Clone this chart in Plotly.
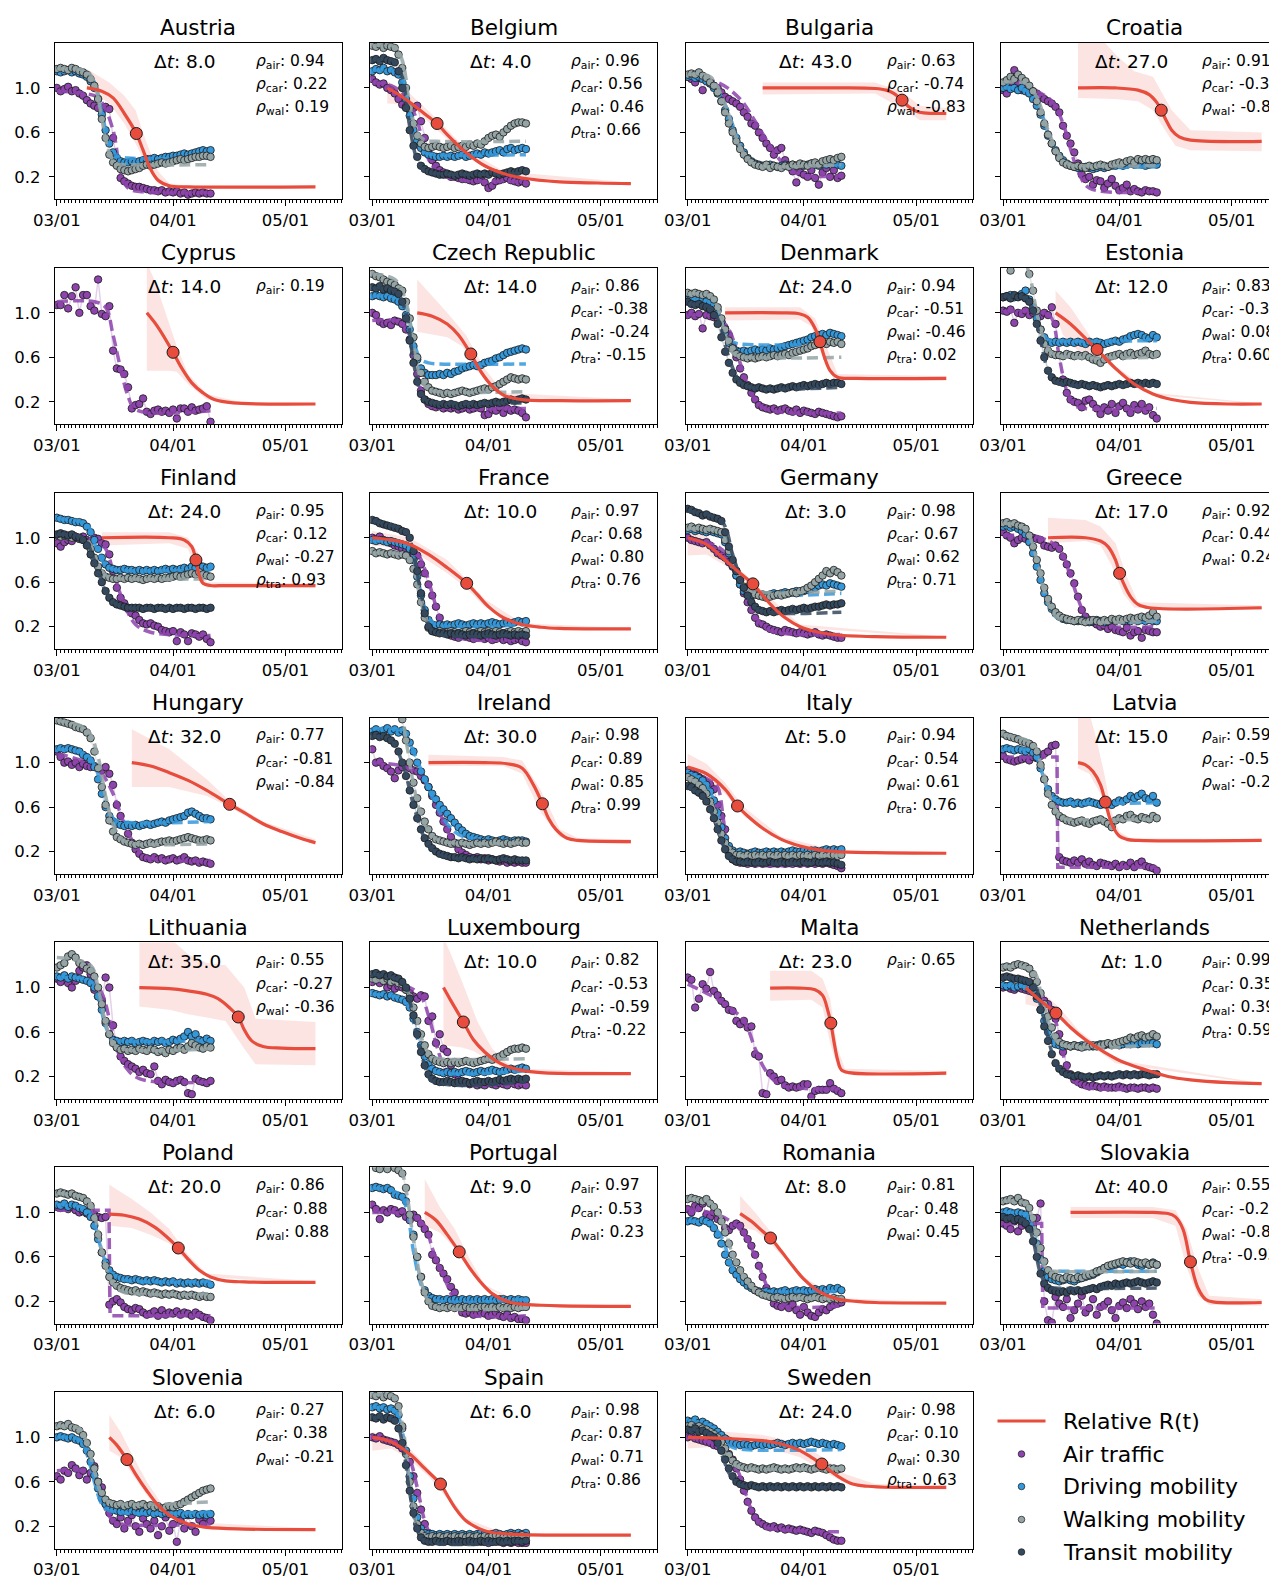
import pandas as pd
import plotly.graph_objects as go

BASE = pd.Timestamp("2020-03-01")

COUNTRIES = ["Austria", "Belgium", "Bulgaria", "Croatia", "Cyprus", "Czech Republic", "Denmark",
             "Estonia", "Finland", "France", "Germany", "Greece", "Hungary", "Ireland", "Italy",
             "Latvia", "Lithuania", "Luxembourg", "Malta", "Netherlands", "Poland", "Portugal",
             "Romania", "Slovakia", "Slovenia", "Spain", "Sweden"]
CODES = ["AT", "BE", "BG", "HR", "CY", "CZ", "DK", "EE", "FI", "FR", "DE", "GR", "HU", "IE", "IT",
         "LV", "LT", "LU", "MT", "NL", "PL", "PT", "RO", "SK", "SI", "ES", "SE"]
TICK_LABELS = ["03/01", "04/01", "05/01"]
Y_TICKS = [0.2, 0.6, 1.0]
LEGEND_LABELS = ["Relative R(t)", "Air traffic", "Driving mobility", "Walking mobility", "Transit mobility"]

# ---------------- Austria ----------------
AT_air = [1.00,0.97,0.99,1.01,0.97,0.98,0.95,0.93,0.89,0.86, 0.84,0.82,0.80,0.83,0.81,0.55,0.32,0.19,0.16,0.14,
          0.12,0.11,0.11,0.10,0.09,0.08,0.08,0.07,0.08,0.06, 0.07,0.06,0.07,0.05,0.06,0.04,0.05,0.06,0.05,0.06, 0.05,0.05]
AT_car = [1.15,1.14,1.15,1.16,1.14,1.15,1.13,1.12,1.10,1.06, 1.00,0.90,0.76,0.62,0.50,0.42,0.37,0.34,0.33,0.33,
          0.34,0.33,0.34,0.35,0.36,0.36,0.37,0.36,0.37,0.38, 0.38,0.39,0.39,0.40,0.41,0.40,0.41,0.42,0.43,0.44, 0.43,0.44]
AT_wal = [1.17,1.18,1.17,1.16,1.18,1.17,1.15,1.14,1.12,1.08, 1.02,0.90,0.72,0.55,0.40,0.33,0.30,0.27,0.26,0.25,
          0.26,0.27,0.28,0.30,0.31,0.30,0.31,0.32,0.33,0.32, 0.33,0.34,0.35,0.36,0.35,0.36,0.37,0.38,0.38,0.39, 0.39,0.38]
AT_air_fit = ([0,10,12,15,17,19,23,41], [0.97,0.93,0.87,0.62,0.25,0.10,0.065,0.06])
AT_car_fit = ([0,8,10,12,14,16,19,41], [1.15,1.13,1.05,0.78,0.50,0.39,0.37,0.37])
AT_wal_fit = ([0,8,10,12,14,16,19,41], [1.17,1.15,1.05,0.72,0.42,0.32,0.31,0.31])
AT_r = ([8,12,15,18,21.2,23,25,27,30,35,69], [1.0,0.97,0.91,0.77,0.59,0.44,0.27,0.17,0.12,0.11,0.11])
AT_hi = ([8,14,18,21,24,27,30,35,69], [1.17,1.05,0.93,0.80,0.50,0.25,0.14,0.12,0.115])
AT_lo = ([8,14,18,21,24,27,30,69], [1.0,0.86,0.68,0.50,0.30,0.14,0.11,0.105])
AT_mark = (21.2, 0.59)
AT_dt = 8.0
AT_rho = [("air", 0.94), ("car", 0.22), ("wal", 0.19)]

# ---------------- Belgium ----------------
BE_air = [1.08,1.05,1.03,1.04,1.00,0.98,0.95,0.90,0.85,0.83, 0.80,0.82,0.84,0.70,0.55,0.42,0.35,0.30,0.26,0.24,
          0.22,0.20,0.20,0.19,0.18,0.18,0.17,0.16,0.17,0.18, 0.15,0.10,0.12,0.16,0.17,0.18,0.19,0.17,0.16,0.15, 0.16,0.14]
BE_car = [1.15,1.17,1.16,1.18,1.15,1.16,1.14,1.12,1.05,0.90, 0.75,0.62,0.52,0.46,0.42,0.40,0.39,0.38,0.38,0.39,
          0.38,0.39,0.38,0.39,0.40,0.38,0.39,0.40,0.41,0.40, 0.42,0.41,0.42,0.43,0.44,0.42,0.45,0.46,0.44,0.45, 0.46,0.45]
BE_wal = [1.38,1.37,1.39,1.36,1.38,1.37,1.36,1.30,1.18,1.00, 0.82,0.68,0.57,0.50,0.47,0.46,0.47,0.48,0.47,0.46,
          0.47,0.48,0.46,0.47,0.48,0.47,0.49,0.48,0.50,0.49, 0.52,0.55,0.57,0.58,0.56,0.60,0.63,0.66,0.68,0.69, 0.69,0.68]
BE_tra = [1.25,1.26,1.24,1.27,1.25,1.24,1.23,1.15,1.00,0.82, 0.62,0.48,0.38,0.30,0.27,0.25,0.24,0.23,0.22,0.22,
          0.23,0.22,0.21,0.22,0.23,0.22,0.21,0.22,0.23,0.22, 0.23,0.22,0.24,0.23,0.22,0.23,0.24,0.25,0.24,0.25, 0.26,0.25]
BE_air_fit = ([0,5,9,12,14,16,19,24,41], [1.05,1.02,0.92,0.70,0.45,0.30,0.21,0.17,0.16])
BE_car_fit = ([0,6,8,10,12,14,17,41], [1.16,1.15,1.10,0.78,0.50,0.42,0.40,0.40])
BE_wal_fit = ([0,6,8,10,12,14,17,41], [1.38,1.37,1.25,0.85,0.60,0.53,0.52,0.52])
BE_tra_fit = ([0,6,8,10,12,14,17,41], [1.25,1.24,1.10,0.65,0.35,0.25,0.23,0.23])
BE_r = ([4,8,12,15,17.3,20,25,30,35,40,50,60,69], [1.0,0.92,0.82,0.74,0.68,0.58,0.42,0.30,0.23,0.19,0.155,0.145,0.14])
BE_hi = ([4,10,17,25,35,69], [1.06,0.95,0.73,0.45,0.25,0.15])
BE_lo = ([4,10,17,25,35,69], [0.86,0.85,0.63,0.39,0.21,0.13])
BE_mark = (17.3, 0.68)
BE_dt = 4.0
BE_rho = [("air", 0.96), ("car", 0.56), ("wal", 0.46), ("tra", 0.66)]

# ---------------- Bulgaria ----------------
BG_air = [1.10,1.08,1.05,1.09,0.98,1.07,1.04,1.02,1.00,0.96, 0.92,0.90,0.88,0.86,0.83,0.78,0.74,0.68,0.66,0.60,
          0.55,0.50,0.46,0.40,0.44,0.46,0.35,0.30,0.25,0.15, 0.24,0.22,0.20,0.26,0.19,0.13,0.24,0.28,0.20,0.26, 0.19,0.21]
BG_car = [1.10,1.11,1.09,1.10,1.08,1.06,1.04,1.00,0.95,0.88, 0.80,0.72,0.62,0.55,0.48,0.42,0.37,0.34,0.32,0.31,
          0.30,0.30,0.31,0.30,0.29,0.30,0.31,0.30,0.31,0.30, 0.31,0.30,0.31,0.32,0.31,0.30,0.32,0.31,0.33,0.32, 0.31,0.30]
BG_wal = [1.12,1.13,1.12,1.14,1.11,1.09,1.05,1.02,0.96,0.88, 0.78,0.68,0.60,0.52,0.45,0.40,0.36,0.33,0.31,0.30,
          0.29,0.31,0.28,0.30,0.29,0.28,0.30,0.29,0.31,0.30, 0.32,0.31,0.30,0.32,0.33,0.31,0.34,0.35,0.36,0.35, 0.37,0.38]
BG_air_fit = ([0,8,14,18,22,26,30,41], [1.08,1.05,0.90,0.70,0.48,0.30,0.22,0.21])
BG_car_fit = ([0,6,10,13,16,19,23,41], [1.10,1.07,0.85,0.58,0.38,0.31,0.30,0.31])
BG_wal_fit = ([0,6,10,13,16,19,23,41], [1.12,1.10,0.85,0.55,0.36,0.30,0.29,0.31])
BG_r = ([20,40,50,53,55,57.2,59,61,63,69], [1.0,1.0,0.995,0.98,0.95,0.89,0.83,0.79,0.775,0.77])
BG_hi = ([20,50,57,62,69], [1.05,1.05,0.97,0.84,0.82])
BG_lo = ([20,50,57,62,69], [0.94,0.95,0.82,0.71,0.71])
BG_mark = (57.2, 0.89)
BG_dt = 43.0
BG_rho = [("air", 0.63), ("car", -0.74), ("wal", -0.83)]

# ---------------- Croatia ----------------
HR_air = [0.98,0.95,1.04,1.16,1.05,0.98,1.02,0.99,0.97,0.95, 0.92,0.90,0.88,0.86,0.83,0.78,0.66,0.57,0.50,0.42,
          0.32,0.22,0.18,0.20,0.13,0.17,0.16,0.10,0.14,0.18, 0.12,0.08,0.10,0.13,0.07,0.09,0.07,0.06,0.08,0.07, 0.07,0.06]
HR_car = [1.00,1.01,0.99,1.00,0.98,1.00,0.97,0.95,0.90,0.84, 0.76,0.66,0.57,0.50,0.44,0.39,0.35,0.32,0.30,0.29,
          0.28,0.28,0.29,0.28,0.27,0.28,0.29,0.28,0.29,0.30, 0.30,0.31,0.30,0.31,0.32,0.31,0.32,0.31,0.30,0.31, 0.32,0.31]
HR_wal = [1.05,1.07,1.10,1.08,1.12,1.09,1.06,1.02,0.97,0.88, 0.78,0.68,0.58,0.50,0.43,0.37,0.33,0.31,0.30,0.29,
          0.30,0.29,0.28,0.30,0.29,0.30,0.31,0.30,0.29,0.31, 0.32,0.33,0.32,0.34,0.35,0.33,0.36,0.35,0.36,0.35, 0.36,0.35]
HR_air_fit = ([0,8,13,16,18,20,23,41], [1.0,0.98,0.88,0.68,0.45,0.25,0.10,0.07])
HR_car_fit = ([0,6,9,12,15,18,22,41], [1.0,0.98,0.88,0.60,0.40,0.31,0.29,0.29])
HR_wal_fit = ([0,6,9,12,15,18,22,41], [1.05,1.04,0.92,0.62,0.40,0.31,0.30,0.30])
HR_r = ([20,30,36,39,41,42.2,43.5,45,47,50,69], [1.0,1.0,0.98,0.94,0.87,0.80,0.71,0.62,0.56,0.53,0.52])
HR_hi = ([20,26,30,35,40,45,50,69], [1.45,1.45,1.30,1.15,1.10,0.80,0.62,0.60])
HR_lo = ([20,30,36,40,43,46,50,69], [0.91,0.90,0.88,0.80,0.63,0.48,0.44,0.43])
HR_mark = (42.2, 0.80)
HR_dt = 27.0
HR_rho = [("air", 0.91), ("car", -0.30), ("wal", -0.83)]

# ---------------- Cyprus ----------------
CY_air = [1.07,1.07,1.16,1.04,1.15,1.23,1.00,1.16,1.16,1.06, 1.02,1.30,0.99,0.97,1.06,0.66,0.50,0.49,0.45,0.33,
          0.14,0.17,0.18,0.23,0.11,0.09,0.12,0.13,0.11,0.12, 0.10,0.13,0.05,0.14,0.14,0.11,0.15,0.12,0.13,0.14, 0.16,0.02]
CY_air_fit = ([0,10,13,15,17,19,21,41], [1.10,1.10,1.05,0.80,0.50,0.25,0.13,0.12])
CY_r = ([24,27,31,33,36,39,42,47,69], [1.0,0.87,0.645,0.52,0.37,0.28,0.22,0.19,0.18])
CY_hi = ([24,26,29,32,35,40,50,69], [1.45,1.30,1.0,0.70,0.45,0.27,0.19,0.185])
CY_lo = ([24,30,32,35,40,50,69], [0.48,0.48,0.47,0.36,0.22,0.175,0.175])
CY_mark = (31.0, 0.645)
CY_dt = 14.0
CY_rho = [("air", 0.19)]

# ---------------- Czech Republic ----------------
CZ_air = [1.00,0.98,0.92,0.90,0.91,0.89,0.93,0.92,0.90,0.85, 0.76,0.62,0.45,0.30,0.22,0.18,0.16,0.15,0.16,0.14,
          0.15,0.14,0.15,0.13,0.14,0.15,0.13,0.14,0.15,0.14, 0.08,0.09,0.13,0.12,0.15,0.10,0.14,0.12,0.13,0.12, 0.10,0.06]
CZ_car = [1.15,1.16,1.15,1.14,1.15,1.13,1.12,1.10,1.06,0.98, 0.85,0.70,0.58,0.50,0.46,0.44,0.44,0.44,0.45,0.44,
          0.46,0.45,0.47,0.48,0.50,0.51,0.52,0.53,0.52,0.53, 0.55,0.56,0.57,0.59,0.60,0.62,0.64,0.65,0.66,0.67, 0.68,0.67]
CZ_wal = [1.35,1.33,1.32,1.30,1.28,1.27,1.25,1.22,1.20,1.10, 0.95,0.78,0.60,0.46,0.38,0.33,0.30,0.29,0.28,0.27,
          0.28,0.27,0.28,0.29,0.30,0.29,0.28,0.29,0.30,0.31, 0.32,0.31,0.33,0.34,0.36,0.38,0.40,0.42,0.41,0.40, 0.41,0.40]
CZ_tra = [1.23,1.22,1.24,1.21,1.22,1.20,1.19,1.17,1.10,0.95, 0.75,0.55,0.38,0.27,0.22,0.20,0.19,0.18,0.17,0.18,
          0.17,0.18,0.17,0.16,0.17,0.18,0.17,0.18,0.17,0.18, 0.19,0.18,0.19,0.20,0.19,0.20,0.21,0.22,0.21,0.22, 0.23,0.22]
CZ_air_fit = ([0,7,10,12,14,16,20,41], [0.93,0.92,0.80,0.45,0.20,0.15,0.14,0.14])
CZ_car_fit = ([0,6,9,11,13,15,18,41], [1.15,1.14,1.05,0.75,0.58,0.55,0.54,0.54])
CZ_wal_fit = ([0,6,9,11,13,15,18,41], [1.35,1.30,1.10,0.70,0.40,0.31,0.29,0.29])
CZ_tra_fit = ([0,6,9,11,13,15,18,41], [1.22,1.20,1.0,0.55,0.28,0.20,0.19,0.19])
CZ_r = ([12,16,20,23,26.3,29,32,35,40,50,69], [1.0,0.97,0.90,0.80,0.63,0.47,0.34,0.26,0.22,0.21,0.21])
CZ_hi = ([12,16,20,25,30,35,69], [1.30,1.15,1.0,0.80,0.50,0.28,0.22])
CZ_lo = ([12,20,24,27,30,35,69], [0.83,0.78,0.70,0.55,0.40,0.24,0.20])
CZ_mark = (26.3, 0.63)
CZ_dt = 14.0
CZ_rho = [("air", 0.86), ("car", -0.38), ("wal", -0.24), ("tra", -0.15)]

# ---------------- Denmark ----------------
DK_air = [0.98,1.00,0.97,0.99,0.86,0.98,0.97,0.96,0.95,0.92, 0.86,0.80,0.70,0.60,0.50,0.42,0.35,0.28,0.22,0.17,
          0.15,0.14,0.13,0.14,0.12,0.13,0.14,0.12,0.11,0.13, 0.10,0.12,0.11,0.10,0.09,0.11,0.10,0.09,0.08,0.07, 0.06,0.07]
DK_car = [1.12,1.13,1.12,1.11,1.12,1.10,1.09,1.07,1.02,0.92, 0.82,0.73,0.68,0.66,0.65,0.66,0.65,0.66,0.67,0.66,
          0.67,0.66,0.68,0.67,0.68,0.69,0.70,0.71,0.72,0.73, 0.74,0.75,0.76,0.78,0.79,0.80,0.81,0.80,0.82,0.81, 0.80,0.79]
DK_wal = [1.18,1.17,1.18,1.17,1.16,1.17,1.15,1.12,1.05,0.95, 0.85,0.75,0.68,0.63,0.61,0.60,0.59,0.60,0.59,0.60,
          0.61,0.60,0.61,0.62,0.61,0.62,0.63,0.62,0.64,0.65, 0.66,0.67,0.68,0.70,0.71,0.72,0.73,0.72,0.74,0.73, 0.74,0.72]
DK_tra = [1.10,1.08,1.07,1.08,1.06,1.05,1.03,0.98,0.90,0.78, 0.65,0.55,0.46,0.40,0.37,0.35,0.34,0.33,0.32,0.33,
          0.32,0.31,0.32,0.31,0.32,0.33,0.32,0.33,0.34,0.33, 0.34,0.35,0.34,0.35,0.36,0.35,0.36,0.37,0.36,0.37, 0.37,0.36]
DK_air_fit = ([0,8,11,14,17,20,24,41], [0.98,0.96,0.85,0.55,0.27,0.15,0.11,0.10])
DK_car_fit = ([0,6,8,10,12,14,41], [1.12,1.10,1.0,0.82,0.74,0.72,0.72])
DK_wal_fit = ([0,6,8,10,12,14,41], [1.17,1.15,1.05,0.80,0.64,0.61,0.60])
DK_tra_fit = ([0,6,8,11,14,17,41], [1.08,1.05,0.95,0.60,0.38,0.33,0.33])
DK_r = ([10,25,30,32,34,35.3,36.5,38,40,45,69], [1.0,1.0,0.99,0.96,0.86,0.74,0.60,0.48,0.42,0.41,0.41])
DK_hi = ([10,30,34,37,40,69], [1.05,1.05,0.95,0.70,0.45,0.43])
DK_lo = ([10,30,33,36,39,69], [0.93,0.94,0.88,0.60,0.40,0.39])
DK_mark = (35.3, 0.74)
DK_dt = 24.0
DK_rho = [("air", 0.94), ("car", -0.51), ("wal", -0.46), ("tra", 0.02)]

# ---------------- Estonia ----------------
EE_air = [1.02,1.01,1.03,0.91,1.00,0.99,1.02,0.98,1.00,0.99, 0.97,1.00,0.98,1.05,0.90,0.62,0.40,0.28,0.22,0.20,
          0.19,0.15,0.21,0.22,0.18,0.14,0.09,0.15,0.12,0.18, 0.10,0.16,0.19,0.14,0.10,0.17,0.13,0.18,0.12,0.15, 0.08,0.05]
EE_car = [1.14,1.15,1.16,1.14,1.15,1.17,1.20,1.12,1.05,0.95, 0.85,0.78,0.74,0.73,0.74,0.73,0.74,0.73,0.74,0.73,
          0.74,0.73,0.72,0.74,0.73,0.74,0.73,0.72,0.73,0.74, 0.75,0.74,0.76,0.77,0.79,0.80,0.81,0.80,0.78,0.77, 0.80,0.78]
EE_wal = [1.52,1.48,1.38,1.50,1.55,1.47,1.45,1.35,1.20,1.02, 0.85,0.72,0.66,0.63,0.62,0.62,0.61,0.63,0.62,0.61,
          0.62,0.61,0.62,0.60,0.58,0.57,0.55,0.58,0.60,0.61, 0.62,0.63,0.61,0.63,0.64,0.62,0.63,0.64,0.66,0.63, 0.62,0.63]
EE_tra = [1.14,1.15,1.13,1.16,1.14,1.15,1.13,1.10,1.02,0.90, 0.75,0.60,0.48,0.42,0.39,0.38,0.37,0.38,0.37,0.36,
          0.35,0.36,0.35,0.34,0.35,0.34,0.33,0.34,0.35,0.34, 0.35,0.36,0.35,0.36,0.37,0.36,0.37,0.36,0.37,0.36, 0.37,0.36]
EE_air_fit = ([0,11,13,15,17,19,22,41], [1.01,1.0,0.95,0.60,0.30,0.17,0.14,0.14])
EE_car_fit = ([0,6,8,10,12,14,41], [1.15,1.13,1.03,0.84,0.76,0.75,0.75])
EE_wal_fit = ([0,5,7,9,11,13,15,41], [1.55,1.50,1.35,1.0,0.75,0.64,0.61,0.60])
EE_tra_fit = ([0,6,8,10,12,14,17,41], [1.15,1.13,1.02,0.75,0.48,0.38,0.35,0.35])
EE_r = ([14,18,22,25.1,30,35,40,45,50,60,69], [1.0,0.90,0.77,0.67,0.50,0.36,0.27,0.22,0.195,0.18,0.18])
EE_hi = ([14,18,22,25,30,40,69], [1.20,1.05,0.85,0.70,0.52,0.28,0.185])
EE_lo = ([14,16,20,25,30,40,69], [0.98,0.80,0.66,0.63,0.48,0.26,0.175])
EE_mark = (25.1, 0.67)
EE_dt = 12.0
EE_rho = [("air", 0.83), ("car", -0.33), ("wal", 0.08), ("tra", 0.60)]

# ---------------- Finland ----------------
FI_air = [0.95,0.92,0.96,0.98,0.97,1.00,0.99,1.01,0.98,0.97, 1.00,0.99,0.95,0.94,0.85,0.70,0.55,0.46,0.41,0.36,
          0.32,0.30,0.26,0.23,0.22,0.23,0.21,0.20,0.17,0.16, 0.15,0.16,0.07,0.15,0.13,0.07,0.14,0.13,0.11,0.13, 0.09,0.06]
FI_car = [1.18,1.17,1.16,1.16,1.15,1.14,1.14,1.13,1.10,1.05, 0.98,0.90,0.82,0.76,0.73,0.72,0.71,0.71,0.72,0.71,
          0.71,0.70,0.71,0.70,0.71,0.70,0.71,0.70,0.71,0.72, 0.71,0.72,0.71,0.72,0.73,0.72,0.74,0.73,0.75,0.74, 0.73,0.74]
FI_wal = [1.02,1.01,1.02,1.01,1.00,1.01,0.99,0.98,0.95,0.90, 0.82,0.74,0.68,0.65,0.64,0.63,0.63,0.64,0.63,0.64,
          0.63,0.64,0.63,0.62,0.63,0.64,0.63,0.64,0.63,0.64, 0.64,0.65,0.66,0.65,0.66,0.67,0.68,0.67,0.69,0.67, 0.66,0.65]
FI_tra = [1.03,1.04,1.03,1.02,1.03,1.01,1.00,0.98,0.93,0.85, 0.77,0.68,0.60,0.52,0.46,0.42,0.40,0.39,0.38,0.37,
          0.37,0.37,0.37,0.36,0.37,0.37,0.36,0.37,0.37,0.36, 0.37,0.36,0.37,0.37,0.36,0.37,0.37,0.36,0.37,0.37, 0.36,0.37]
FI_air_fit = ([0,10,13,15,18,21,25,41], [0.98,0.98,0.90,0.70,0.40,0.22,0.15,0.12])
FI_car_fit = ([0,8,10,12,14,16,41], [1.17,1.12,0.95,0.80,0.73,0.71,0.71])
FI_wal_fit = ([0,8,10,12,14,16,41], [1.02,0.98,0.85,0.70,0.64,0.63,0.63])
FI_tra_fit = ([0,7,10,13,16,19,41], [1.03,1.0,0.80,0.52,0.40,0.37,0.37])
FI_r = ([12,30,34,36,37.1,38,39,41,45,69], [1.0,1.0,0.98,0.92,0.80,0.66,0.59,0.57,0.57,0.57])
FI_hi = ([12,30,35,38,40,69], [1.05,1.05,1.0,0.85,0.60,0.59])
FI_lo = ([12,30,35,38,40,69], [0.93,0.95,0.90,0.62,0.55,0.55])
FI_mark = (37.1, 0.80)
FI_dt = 24.0
FI_rho = [("air", 0.95), ("car", 0.12), ("wal", -0.27), ("tra", 0.93)]

# ---------------- France ----------------
FR_air = [1.00,0.99,1.01,0.98,0.97,0.95,0.93,0.92,0.90,0.88, 0.88,0.86,0.84,0.76,0.68,0.58,0.48,0.38,0.28,0.18,
          0.14,0.12,0.11,0.10,0.12,0.11,0.10,0.09,0.10,0.11, 0.09,0.10,0.08,0.09,0.10,0.08,0.09,0.07,0.08,0.09, 0.07,0.06]
FR_car = [0.98,0.97,0.98,0.97,0.96,0.97,0.96,0.95,0.94,0.93, 0.90,0.80,0.65,0.48,0.35,0.26,0.22,0.21,0.22,0.21,
          0.22,0.21,0.22,0.23,0.22,0.21,0.22,0.23,0.22,0.23, 0.22,0.23,0.24,0.23,0.22,0.23,0.24,0.23,0.24,0.25, 0.24,0.25]
FR_wal = [0.88,0.86,0.87,0.86,0.85,0.86,0.85,0.84,0.85,0.84, 0.80,0.72,0.58,0.42,0.28,0.19,0.16,0.15,0.16,0.15,
          0.15,0.16,0.15,0.14,0.15,0.16,0.15,0.14,0.15,0.16, 0.15,0.16,0.15,0.16,0.15,0.14,0.15,0.16,0.15,0.16, 0.15,0.16]
FR_tra = [1.16,1.15,1.13,1.12,1.11,1.10,1.09,1.08,1.06,1.05, 1.00,0.88,0.70,0.50,0.32,0.20,0.16,0.15,0.14,0.14,
          0.13,0.14,0.13,0.14,0.13,0.12,0.13,0.14,0.13,0.12, 0.13,0.14,0.13,0.12,0.13,0.14,0.13,0.12,0.13,0.12, 0.13,0.12]
FR_air_fit = ([0,8,12,14,16,18,21,41], [0.99,0.94,0.86,0.72,0.50,0.28,0.12,0.09])
FR_car_fit = ([0,9,11,13,15,17,41], [0.97,0.95,0.82,0.50,0.28,0.22,0.22])
FR_wal_fit = ([0,9,11,13,15,17,41], [0.86,0.84,0.72,0.42,0.22,0.15,0.15])
FR_tra_fit = ([0,9,11,13,15,17,41], [1.15,1.05,0.85,0.50,0.22,0.14,0.13])
FR_r = ([0,5,10,15,20,25.2,28,31,35,40,45,50,69], [1.0,0.98,0.94,0.85,0.73,0.59,0.49,0.38,0.28,0.22,0.195,0.185,0.18])
FR_hi = ([0,10,20,25,30,40,69], [1.06,1.0,0.80,0.63,0.45,0.23,0.185])
FR_lo = ([0,10,20,25,30,40,69], [0.93,0.90,0.68,0.55,0.38,0.21,0.175])
FR_mark = (25.2, 0.59)
FR_dt = 10.0
FR_rho = [("air", 0.97), ("car", 0.68), ("wal", 0.80), ("tra", 0.76)]

# ---------------- Germany ----------------
DE_air = [1.00,0.98,0.97,0.96,0.95,0.96,0.93,0.90,0.86,0.84, 0.82,0.78,0.74,0.66,0.58,0.50,0.42,0.35,0.28,0.23,
          0.22,0.20,0.18,0.17,0.16,0.15,0.17,0.16,0.15,0.14, 0.15,0.14,0.13,0.14,0.15,0.13,0.12,0.13,0.12,0.11, 0.10,0.10]
DE_car = [1.07,1.08,1.06,1.07,1.06,1.05,1.06,1.05,1.04,1.03, 0.96,0.86,0.75,0.66,0.58,0.52,0.50,0.48,0.49,0.48,
          0.49,0.48,0.49,0.50,0.49,0.50,0.51,0.50,0.51,0.52, 0.51,0.52,0.53,0.54,0.55,0.57,0.58,0.57,0.59,0.58, 0.57,0.56]
DE_wal = [1.09,1.10,1.08,1.09,1.08,1.07,1.08,1.07,1.06,1.05, 0.98,0.88,0.78,0.70,0.62,0.56,0.52,0.50,0.49,0.48,
          0.47,0.46,0.47,0.48,0.49,0.48,0.49,0.50,0.51,0.50, 0.52,0.53,0.55,0.57,0.60,0.63,0.66,0.70,0.68,0.71, 0.69,0.66]
DE_tra = [1.26,1.25,1.23,1.22,1.20,1.21,1.19,1.18,1.17,1.15, 1.05,0.92,0.80,0.70,0.62,0.55,0.48,0.42,0.38,0.35,
          0.34,0.33,0.34,0.33,0.34,0.35,0.34,0.35,0.36,0.35, 0.36,0.37,0.36,0.37,0.38,0.38,0.39,0.40,0.39,0.40, 0.40,0.41]
DE_air_fit = ([0,8,12,15,18,21,25,41], [0.99,0.92,0.78,0.55,0.30,0.18,0.14,0.13])
DE_car_fit = ([0,9,11,13,15,17,41], [1.07,1.04,0.90,0.70,0.55,0.50,0.50])
DE_wal_fit = ([0,9,11,13,15,17,41], [1.08,1.05,0.92,0.72,0.56,0.52,0.52])
DE_tra_fit = ([0,9,12,15,18,21,41], [1.24,1.15,0.85,0.55,0.37,0.33,0.33])
DE_r = ([0,5,10,14,17.4,20,23,26,30,35,40,50,69], [1.0,0.94,0.80,0.68,0.585,0.48,0.37,0.28,0.20,0.15,0.125,0.11,0.105])
DE_hi = ([0,5,10,15,20,30,69], [1.12,1.02,0.85,0.68,0.52,0.22,0.11])
DE_lo = ([0,5,10,15,20,30,69], [0.84,0.85,0.75,0.60,0.45,0.19,0.10])
DE_mark = (17.4, 0.585)
DE_dt = 3.0
DE_rho = [("air", 0.98), ("car", 0.67), ("wal", 0.62), ("tra", 0.71)]

# ---------------- Greece ----------------
GR_air = [1.05,1.02,1.00,0.95,0.98,1.00,0.99,0.97,1.00,0.99, 0.98,0.93,0.92,0.91,0.93,0.90,0.83,0.76,0.68,0.59,
          0.47,0.35,0.29,0.26,0.24,0.22,0.20,0.21,0.18,0.20, 0.17,0.16,0.15,0.19,0.12,0.15,0.16,0.10,0.17,0.16, 0.15,0.15]
GR_car = [1.10,1.11,1.09,1.10,1.08,1.06,1.03,0.96,0.86,0.74, 0.62,0.50,0.42,0.36,0.32,0.29,0.27,0.26,0.26,0.25,
          0.25,0.26,0.25,0.24,0.25,0.26,0.25,0.24,0.25,0.26, 0.25,0.26,0.25,0.26,0.25,0.26,0.25,0.26,0.25,0.26, 0.25,0.25]
GR_wal = [1.13,1.14,1.12,1.13,1.11,1.10,1.08,1.02,0.92,0.80, 0.68,0.55,0.45,0.38,0.33,0.30,0.28,0.27,0.26,0.25,
          0.26,0.25,0.24,0.25,0.26,0.25,0.24,0.26,0.25,0.27, 0.26,0.27,0.26,0.27,0.28,0.27,0.28,0.29,0.28,0.30, 0.33,0.29]
GR_air_fit = ([0,10,15,18,20,22,25,41], [1.02,1.0,0.90,0.65,0.45,0.30,0.22,0.20])
GR_car_fit = ([0,5,7,9,11,13,15,41], [1.10,1.08,1.0,0.80,0.52,0.33,0.27,0.25])
GR_wal_fit = ([0,5,7,9,11,13,15,41], [1.13,1.10,1.02,0.80,0.52,0.34,0.27,0.25])
GR_r = ([12,22,26,28,30,31.1,32,34,36,39,69], [1.0,1.0,0.97,0.92,0.80,0.68,0.60,0.47,0.40,0.37,0.37])
GR_hi = ([12,22,26,30,33,36,69], [1.18,1.16,1.10,0.95,0.65,0.42,0.39])
GR_lo = ([12,22,26,29,32,35,69], [0.95,0.97,0.93,0.75,0.50,0.37,0.35])
GR_mark = (31.1, 0.68)
GR_dt = 17.0
GR_rho = [("air", 0.92), ("car", 0.44), ("wal", 0.24)]

# ---------------- Hungary ----------------
HU_air = [1.10,1.05,1.00,1.01,0.98,1.00,0.96,0.99,0.97,0.96, 0.97,0.95,0.93,0.96,0.90,0.80,0.62,0.52,0.44,0.36,
          0.28,0.22,0.18,0.15,0.14,0.13,0.15,0.13,0.14,0.12, 0.13,0.14,0.12,0.13,0.15,0.12,0.11,0.12,0.10,0.11, 0.10,0.09]
HU_car = [1.12,1.13,1.12,1.13,1.12,1.11,1.10,1.07,1.05,1.02, 0.96,0.85,0.72,0.60,0.52,0.47,0.45,0.44,0.43,0.44,
          0.43,0.44,0.43,0.44,0.45,0.44,0.45,0.46,0.47,0.46, 0.48,0.49,0.50,0.51,0.52,0.55,0.56,0.54,0.52,0.50, 0.50,0.49]
HU_wal = [1.38,1.37,1.36,1.35,1.34,1.32,1.31,1.30,1.27,1.22, 1.10,0.95,0.78,0.62,0.48,0.38,0.33,0.31,0.29,0.28,
          0.27,0.26,0.27,0.26,0.27,0.28,0.27,0.28,0.29,0.29, 0.30,0.29,0.30,0.31,0.32,0.33,0.32,0.31,0.30,0.30, 0.31,0.30]
HU_air_fit = ([0,8,12,15,18,21,24,41], [1.08,1.0,0.90,0.72,0.45,0.25,0.15,0.12])
HU_car_fit = ([0,8,11,13,15,17,41], [1.12,1.07,0.90,0.65,0.50,0.47,0.47])
HU_wal_fit = ([0,8,11,13,15,17,19,41], [1.38,1.30,1.05,0.70,0.45,0.32,0.28,0.27])
HU_r = ([20,25,30,35,40,46.1,50,55,60,65,69], [1.0,0.97,0.91,0.84,0.75,0.625,0.55,0.45,0.38,0.32,0.28])
HU_hi = ([20,30,40,46,55,69], [1.30,1.12,0.85,0.66,0.47,0.31])
HU_lo = ([20,30,40,46,55,69], [0.78,0.78,0.70,0.60,0.43,0.26])
HU_mark = (46.1, 0.625)
HU_dt = 32.0
HU_rho = [("air", 0.77), ("car", -0.81), ("wal", -0.84)]

# ---------------- Ireland ----------------
IE_air = [1.12,1.00,1.01,0.97,0.95,0.92,0.86,0.93,0.96,0.97, 0.95,0.93,0.92,0.88,0.84,0.78,0.70,0.62,0.55,0.47,
          0.40,0.33,0.27,0.22,0.19,0.17,0.15,0.14,0.15,0.13, 0.14,0.12,0.13,0.12,0.11,0.12,0.10,0.11,0.10,0.11, 0.10,0.10]
IE_car = [1.28,1.30,1.27,1.29,1.31,1.28,1.30,1.27,1.29,1.26, 1.18,1.10,1.0,0.92,0.85,0.78,0.72,0.67,0.62,0.58,
          0.54,0.50,0.46,0.42,0.39,0.36,0.34,0.33,0.32,0.31, 0.30,0.31,0.30,0.29,0.30,0.31,0.30,0.29,0.30,0.30, 0.30,0.29]
IE_wal = [1.50,1.48,1.52,1.49,1.47,1.50,1.46,1.44,1.39,1.20, 1.0,0.82,0.68,0.56,0.47,0.40,0.34,0.31,0.30,0.29,
          0.28,0.27,0.28,0.27,0.28,0.27,0.26,0.27,0.28,0.27, 0.28,0.27,0.28,0.29,0.28,0.27,0.28,0.27,0.28,0.29, 0.28,0.28]
IE_tra = [1.24,1.25,1.23,1.24,1.22,1.20,1.17,1.10,1.0,0.88, 0.75,0.62,0.50,0.40,0.32,0.27,0.23,0.20,0.18,0.17,
          0.16,0.15,0.15,0.14,0.15,0.14,0.13,0.14,0.13,0.14, 0.13,0.14,0.13,0.12,0.13,0.14,0.13,0.12,0.13,0.12, 0.12,0.12]
IE_air_fit = ([0,8,12,15,18,21,25,41], [1.0,0.97,0.90,0.78,0.55,0.33,0.17,0.12])
IE_car_fit = ([0,8,11,14,17,20,24,41], [1.30,1.28,1.10,0.85,0.62,0.45,0.34,0.30])
IE_wal_fit = ([0,7,9,11,13,15,18,41], [1.55,1.50,1.20,0.80,0.52,0.38,0.30,0.28])
IE_tra_fit = ([0,5,8,11,14,17,20,41], [1.24,1.20,1.0,0.62,0.32,0.19,0.15,0.13])
IE_r = ([15,30,36,40,43,45.4,47,49,52,55,69], [1.0,1.0,0.99,0.95,0.80,0.63,0.50,0.40,0.32,0.30,0.29])
IE_hi = ([15,35,40,45,50,55,69], [1.07,1.05,1.02,0.75,0.40,0.32,0.31])
IE_lo = ([15,35,40,45,50,55,69], [0.97,0.97,0.90,0.55,0.33,0.28,0.27])
IE_mark = (45.4, 0.63)
IE_dt = 30.0
IE_rho = [("air", 0.98), ("car", 0.89), ("wal", 0.85), ("tra", 0.99)]

# ---------------- Italy ----------------
IT_air = [0.93,0.91,0.89,0.87,0.85,0.82,0.80,0.76,0.62,0.52, 0.40,0.18,0.13,0.11,0.10,0.10,0.09,0.10,0.09,0.10,
          0.09,0.10,0.09,0.10,0.09,0.10,0.09,0.10,0.09,0.10, 0.09,0.10,0.09,0.10,0.09,0.10,0.09,0.10,0.09,0.08, 0.07,0.05]
IT_car = [0.91,0.89,0.88,0.86,0.84,0.80,0.74,0.66,0.55,0.42, 0.32,0.25,0.21,0.19,0.20,0.19,0.18,0.19,0.20,0.19,
          0.19,0.20,0.19,0.20,0.19,0.20,0.19,0.20,0.21,0.20, 0.20,0.21,0.20,0.21,0.21,0.20,0.21,0.22,0.21,0.22, 0.21,0.22]
IT_wal = [0.87,0.85,0.83,0.80,0.77,0.72,0.65,0.56,0.46,0.36, 0.28,0.22,0.19,0.17,0.17,0.16,0.17,0.16,0.17,0.16,
          0.17,0.16,0.17,0.16,0.17,0.16,0.17,0.16,0.17,0.16, 0.17,0.16,0.17,0.16,0.17,0.16,0.17,0.16,0.17,0.17, 0.16,0.17]
IT_tra = [0.79,0.78,0.75,0.73,0.70,0.65,0.58,0.50,0.40,0.30, 0.22,0.16,0.13,0.11,0.11,0.10,0.11,0.10,0.10,0.11,
          0.10,0.10,0.11,0.10,0.10,0.11,0.10,0.10,0.11,0.10, 0.10,0.11,0.10,0.10,0.11,0.10,0.10,0.11,0.10,0.10, 0.09,0.08]
IT_air_fit = ([0,6,8,9.5,11,12.5,41], [0.92,0.84,0.78,0.50,0.15,0.10,0.09])
IT_car_fit = ([0,4,7,9,11,13,41], [0.90,0.84,0.66,0.42,0.25,0.20,0.20])
IT_wal_fit = ([0,4,7,9,11,13,41], [0.86,0.78,0.58,0.36,0.22,0.17,0.17])
IT_tra_fit = ([0,4,7,9,11,13,41], [0.78,0.70,0.50,0.30,0.15,0.11,0.10])
IT_r = ([0,5,10,13.3,16,20,25,30,35,40,50,69], [0.96,0.90,0.76,0.61,0.52,0.41,0.31,0.25,0.215,0.20,0.19,0.185])
IT_hi = ([0,5,10,15,25,40,69], [1.08,0.99,0.82,0.60,0.33,0.21,0.195])
IT_lo = ([0,5,10,15,25,40,69], [0.90,0.85,0.72,0.52,0.29,0.19,0.175])
IT_mark = (13.3, 0.61)
IT_dt = 5.0
IT_rho = [("air", 0.94), ("car", 0.54), ("wal", 0.61), ("tra", 0.76)]

# ---------------- Latvia ----------------
LV_air = [1.06,1.03,1.02,1.01,1.02,1.03,1.04,1.02,1.05,1.04, 1.06,1.08,1.10,1.15,1.16,0.15,0.12,0.11,0.10,0.12,
          0.10,0.13,0.09,0.11,0.08,0.07,0.10,0.09,0.08,0.07, 0.09,0.06,0.08,0.07,0.10,0.06,0.09,0.11,0.07,0.06, 0.05,0.03]
LV_car = [1.12,1.13,1.12,1.11,1.12,1.11,1.10,1.12,1.09,1.05, 0.95,0.85,0.76,0.70,0.67,0.65,0.64,0.64,0.65,0.63,
          0.64,0.63,0.64,0.65,0.64,0.63,0.62,0.64,0.63,0.62, 0.64,0.66,0.65,0.67,0.70,0.68,0.70,0.72,0.68,0.67, 0.70,0.64]
LV_wal = [1.26,1.24,1.23,1.22,1.21,1.19,1.18,1.17,1.15,1.10, 0.98,0.85,0.72,0.62,0.56,0.52,0.50,0.48,0.47,0.46,
          0.47,0.48,0.46,0.45,0.47,0.48,0.49,0.47,0.45,0.42, 0.48,0.50,0.49,0.52,0.53,0.50,0.49,0.51,0.50,0.49, 0.52,0.50]
LV_air_fit = ([0,14.4,14.6,41], [1.05,1.05,0.06,0.06])
LV_car_fit = ([0,8,10,12,14,16,41], [1.12,1.10,0.95,0.75,0.66,0.64,0.64])
LV_wal_fit = ([0,8,10,12,14,16,18,41], [1.25,1.17,1.0,0.75,0.58,0.50,0.49,0.49])
LV_r = ([20,22,24,26,27.3,29,31,33,36,69], [1.0,0.98,0.92,0.80,0.645,0.45,0.34,0.31,0.30,0.30])
LV_hi = ([20,23,25,27,29,31,34,69], [1.45,1.45,1.20,0.90,0.55,0.38,0.32,0.31])
LV_lo = ([20,23,26,28,31,69], [0.95,0.90,0.72,0.50,0.32,0.29])
LV_mark = (27.3, 0.645)
LV_dt = 15.0
LV_rho = [("air", 0.59), ("car", -0.50), ("wal", -0.22)]

# ---------------- Lithuania ----------------
LT_air = [1.08,1.05,1.10,1.04,1.00,1.06,1.15,1.18,1.20,1.12, 0.98,0.92,0.88,1.09,1.00,0.66,0.46,0.38,0.34,0.31,
          0.29,0.27,0.24,0.26,0.23,0.22,0.29,0.16,0.13,0.17, 0.15,0.14,0.16,0.17,0.15,0.05,0.04,0.18,0.16,0.15, 0.14,0.16]
LT_car = [1.10,1.09,1.11,1.08,1.10,1.09,1.08,1.07,1.06,1.04, 1.0,0.92,0.80,0.68,0.58,0.53,0.52,0.51,0.52,0.51,
          0.52,0.50,0.51,0.52,0.51,0.50,0.52,0.51,0.52,0.50, 0.51,0.53,0.52,0.54,0.56,0.60,0.56,0.58,0.53,0.52, 0.54,0.52]
LT_wal = [1.18,1.20,1.22,1.28,1.30,1.27,1.22,1.20,1.17,1.15, 1.10,1.0,0.85,0.70,0.58,0.50,0.46,0.44,0.45,0.43,
          0.44,0.43,0.45,0.44,0.43,0.45,0.44,0.42,0.43,0.41, 0.44,0.43,0.45,0.46,0.44,0.47,0.50,0.48,0.46,0.45, 0.47,0.46]
LT_air_fit = ([0,9,12,14,16,18,22,41], [1.08,1.07,0.95,0.72,0.45,0.30,0.18,0.15])
LT_car_fit = ([0,9,11,13,15,17,41], [1.09,1.06,0.92,0.65,0.53,0.52,0.52])
LT_wal_fit = ([0,9,11,13,15,17,41], [1.27,1.20,1.0,0.68,0.50,0.45,0.45])
LT_r = ([22,30,35,40,43,46,48.4,50,52,55,60,69], [1.0,0.99,0.97,0.94,0.90,0.82,0.735,0.62,0.52,0.47,0.455,0.45])
LT_hi = ([22,30,35,40,45,50,53,69], [1.45,1.45,1.30,1.22,1.20,1.0,0.72,0.69])
LT_lo = ([22,30,35,40,45,50,53,69], [0.83,0.80,0.76,0.73,0.70,0.45,0.31,0.30])
LT_mark = (48.4, 0.735)
LT_dt = 35.0
LT_rho = [("air", 0.55), ("car", -0.27), ("wal", -0.36)]

# ---------------- Luxembourg ----------------
LU_air = [1.05,1.08,1.04,1.06,1.00,1.02,0.99,1.01,1.00,0.98, 0.95,0.92,0.90,0.93,0.92,0.70,0.74,0.50,0.58,0.45,
          0.42,0.30,0.22,0.17,0.14,0.15,0.13,0.14,0.12,0.13, 0.12,0.14,0.13,0.12,0.14,0.13,0.12,0.15,0.13,0.12, 0.13,0.12]
LU_car = [0.95,0.94,0.93,0.94,0.92,0.93,0.91,0.90,0.89,0.87, 0.82,0.72,0.60,0.48,0.38,0.31,0.27,0.25,0.24,0.23,
          0.24,0.23,0.24,0.23,0.24,0.25,0.24,0.23,0.24,0.25, 0.24,0.25,0.26,0.25,0.24,0.25,0.26,0.27,0.26,0.27, 0.28,0.27]
LU_wal = [1.08,1.07,1.09,1.06,1.08,1.05,1.06,1.04,1.03,0.98, 0.92,0.82,0.70,0.58,0.48,0.40,0.36,0.34,0.33,0.32,
          0.33,0.32,0.33,0.32,0.33,0.34,0.33,0.32,0.33,0.34, 0.35,0.36,0.35,0.37,0.38,0.40,0.42,0.44,0.45,0.45, 0.46,0.45]
LU_tra = [1.12,1.13,1.11,1.12,1.10,1.11,1.09,1.08,1.05,1.0, 0.90,0.75,0.58,0.42,0.30,0.22,0.18,0.16,0.15,0.15,
          0.16,0.15,0.14,0.15,0.16,0.15,0.14,0.15,0.16,0.15, 0.15,0.16,0.15,0.16,0.17,0.16,0.17,0.18,0.17,0.18, 0.17,0.18]
LU_air_fit = ([0,10,13,15,17,19,22,41], [1.05,1.0,0.92,0.75,0.50,0.30,0.16,0.14])
LU_car_fit = ([0,8,10,12,14,16,41], [0.94,0.90,0.80,0.55,0.33,0.25,0.25])
LU_wal_fit = ([0,8,10,12,14,16,18,41], [1.07,1.03,0.92,0.68,0.47,0.38,0.36,0.36])
LU_tra_fit = ([0,8,10,12,14,16,41], [1.12,1.05,0.88,0.55,0.30,0.16,0.15])
LU_r = ([19,21,24.3,27,30,33,36,40,45,50,69], [1.0,0.88,0.69,0.53,0.42,0.34,0.29,0.255,0.235,0.228,0.225])
LU_hi = ([19,21,24,28,32,36,40,69], [1.45,1.30,1.05,0.70,0.45,0.32,0.27,0.235])
LU_lo = ([19,24,27,30,35,40,69], [0.48,0.46,0.43,0.37,0.27,0.24,0.215])
LU_mark = (24.3, 0.69)
LU_dt = 10.0
LU_rho = [("air", 0.82), ("car", -0.53), ("wal", -0.59), ("tra", -0.22)]

# ---------------- Malta ----------------
MT_air = [1.09,1.07,0.82,0.90,1.03,0.99,1.14,0.97,0.93,0.88, 0.85,0.80,0.79,0.70,0.67,0.70,0.64,0.65,0.40,0.38,
          0.05,0.04,0.23,0.20,0.16,0.17,0.12,0.10,0.11,0.10, 0.11,0.13,0.13,0.02,0.07,0.08,0.08,0.08,0.14,0.09, 0.07,0.05]
MT_air_fit = ([0,5,10,15,18,20,22,25,41], [1.03,0.95,0.85,0.70,0.45,0.30,0.20,0.12,0.09])
MT_r = ([22,30,34,36,37.5,38.2,39,40,41,43,69], [0.995,0.995,0.98,0.93,0.78,0.68,0.52,0.35,0.26,0.235,0.23])
MT_hi = ([22,33,36,38,40,42,69], [1.15,1.15,1.08,0.90,0.45,0.27,0.25])
MT_lo = ([22,33,36,38,40,42,69], [0.88,0.89,0.82,0.50,0.28,0.22,0.21])
MT_mark = (38.2, 0.68)
MT_dt = 23.0
MT_rho = [("air", 0.65)]

# ---------------- Netherlands ----------------
NL_air = [1.00,1.01,0.99,0.98,1.00,0.99,0.98,0.97,0.96,0.95, 0.92,0.88,0.85,0.80,0.72,0.58,0.42,0.30,0.22,0.17,
          0.15,0.13,0.12,0.11,0.12,0.11,0.10,0.11,0.10,0.10, 0.10,0.11,0.10,0.09,0.10,0.10,0.09,0.10,0.10,0.09, 0.10,0.09]
NL_car = [1.02,1.01,1.02,1.00,1.01,1.02,1.00,0.99,0.96,0.90, 0.80,0.70,0.60,0.53,0.49,0.48,0.47,0.48,0.47,0.48,
          0.47,0.48,0.47,0.48,0.47,0.48,0.49,0.48,0.49,0.48, 0.49,0.48,0.49,0.50,0.49,0.50,0.49,0.50,0.51,0.50, 0.50,0.49]
NL_wal = [1.18,1.19,1.18,1.20,1.21,1.20,1.19,1.17,1.12,1.05, 0.95,0.85,0.74,0.64,0.56,0.51,0.49,0.48,0.47,0.48,
          0.47,0.46,0.48,0.47,0.48,0.47,0.48,0.49,0.50,0.49, 0.50,0.51,0.52,0.53,0.55,0.54,0.56,0.57,0.55,0.56, 0.58,0.56]
NL_tra = [1.09,1.10,1.09,1.08,1.08,1.07,1.06,1.05,1.0,0.92, 0.80,0.65,0.52,0.40,0.32,0.27,0.24,0.22,0.21,0.20,
          0.21,0.20,0.19,0.20,0.19,0.20,0.21,0.20,0.21,0.20, 0.21,0.22,0.21,0.22,0.21,0.22,0.21,0.22,0.22,0.21, 0.22,0.22]
NL_air_fit = ([0,9,12,14,16,18,21,41], [1.0,0.96,0.85,0.70,0.40,0.20,0.11,0.10])
NL_car_fit = ([0,8,10,12,14,16,41], [1.02,0.98,0.82,0.60,0.50,0.48,0.48])
NL_wal_fit = ([0,8,10,12,14,16,41], [1.19,1.15,0.97,0.70,0.53,0.48,0.48])
NL_tra_fit = ([0,8,10,12,14,16,18,41], [1.09,1.04,0.85,0.55,0.32,0.23,0.21,0.21])
NL_r = ([6,10,14.1,18,22,27,32,38,44,50,60,69], [1.0,0.88,0.77,0.64,0.53,0.42,0.33,0.26,0.20,0.17,0.145,0.135])
NL_hi = ([6,10,15,20,30,69], [1.05,0.97,0.82,0.62,0.35,0.14])
NL_lo = ([6,10,15,20,30,69], [0.85,0.82,0.72,0.56,0.32,0.13])
NL_mark = (14.1, 0.77)
NL_dt = 1.0
NL_rho = [("air", 0.99), ("car", 0.35), ("wal", 0.39), ("tra", 0.59)]

# ---------------- Poland ----------------
PL_air = [1.05,1.04,1.06,1.03,1.05,1.02,1.00,1.01,0.99,1.03, 0.98,0.96,0.95,0.96,0.17,0.20,0.22,0.19,0.15,0.13,
          0.12,0.14,0.13,0.10,0.08,0.09,0.11,0.07,0.12,0.08, 0.10,0.09,0.11,0.08,0.10,0.09,0.07,0.10,0.08,0.06, 0.05,0.03]
PL_car = [1.07,1.06,1.08,1.05,1.07,1.06,1.04,1.03,1.0,0.96, 0.88,0.76,0.64,0.55,0.48,0.44,0.42,0.41,0.40,0.40,
          0.39,0.40,0.39,0.38,0.39,0.38,0.39,0.38,0.37,0.38, 0.37,0.38,0.36,0.37,0.36,0.37,0.36,0.37,0.36,0.37, 0.36,0.35]
PL_wal = [1.17,1.18,1.17,1.16,1.17,1.15,1.14,1.13,1.10,1.06, 0.95,0.80,0.64,0.52,0.42,0.37,0.34,0.32,0.31,0.30,
          0.29,0.30,0.28,0.29,0.28,0.27,0.28,0.27,0.26,0.27, 0.26,0.27,0.26,0.25,0.26,0.25,0.26,0.25,0.24,0.25, 0.24,0.24]
PL_air_fit = ([0,13.9,14.2,41], [1.02,1.02,0.07,0.07])
PL_car_fit = ([0,8,10,12,14,16,18,41], [1.07,1.03,0.90,0.65,0.48,0.42,0.39,0.38])
PL_wal_fit = ([0,8,10,12,14,16,18,41], [1.17,1.12,0.98,0.65,0.42,0.32,0.28,0.27])
PL_r = ([14,18,22,26,29,32.4,35,38,41,45,50,69], [0.985,0.975,0.94,0.87,0.79,0.68,0.58,0.48,0.42,0.385,0.375,0.37])
PL_hi = ([14,20,25,30,35,40,69], [1.25,1.12,1.0,0.85,0.62,0.45,0.38])
PL_lo = ([14,20,25,30,35,40,69], [0.88,0.86,0.80,0.72,0.55,0.42,0.36])
PL_mark = (32.4, 0.68)
PL_dt = 20.0
PL_rho = [("air", 0.86), ("car", 0.88), ("wal", 0.88)]

# ---------------- Portugal ----------------
PT_air = [1.07,1.03,0.94,1.02,1.00,1.03,1.02,0.99,1.01,0.96, 0.93,0.98,0.95,0.90,0.85,0.80,0.62,0.57,0.50,0.45,
          0.40,0.33,0.28,0.16,0.10,0.09,0.10,0.08,0.09,0.10, 0.09,0.07,0.08,0.10,0.07,0.06,0.08,0.05,0.06,0.04, 0.04,0.03]
PT_car = [1.22,1.23,1.22,1.21,1.22,1.20,1.16,1.15,1.14,1.10, 0.98,0.80,0.60,0.42,0.30,0.25,0.23,0.22,0.22,0.21,
          0.22,0.21,0.22,0.21,0.22,0.21,0.22,0.21,0.22,0.21, 0.22,0.21,0.22,0.21,0.22,0.22,0.21,0.22,0.21,0.22, 0.21,0.21]
PT_wal = [1.45,1.40,1.39,1.42,1.39,1.44,1.40,1.38,1.35,1.22, 0.98,0.78,0.60,0.42,0.28,0.20,0.16,0.15,0.14,0.15,
          0.14,0.15,0.14,0.15,0.14,0.15,0.14,0.15,0.14,0.15, 0.15,0.14,0.15,0.14,0.15,0.14,0.15,0.14,0.15,0.14, 0.15,0.15]
PT_air_fit = ([0,10,14,16,18,20,22,25,41], [1.0,0.98,0.88,0.68,0.50,0.35,0.20,0.09,0.07])
PT_car_fit = ([0,7,9,11,13,15,41], [1.22,1.17,1.05,0.65,0.35,0.23,0.22])
PT_wal_fit = ([0,7,9,11,13,15,17,41], [1.48,1.42,1.20,0.75,0.38,0.20,0.15,0.14])
PT_r = ([14,17,20,23.2,26,29,32,36,40,45,50,69], [1.0,0.93,0.80,0.645,0.50,0.37,0.27,0.20,0.175,0.165,0.16,0.155])
PT_hi = ([14,18,22,26,30,40,69], [1.30,1.05,0.85,0.58,0.35,0.18,0.165])
PT_lo = ([14,18,22,26,30,40,69], [0.88,0.82,0.68,0.48,0.33,0.17,0.15])
PT_mark = (23.2, 0.645)
PT_dt = 9.0
PT_rho = [("air", 0.97), ("car", 0.53), ("wal", 0.23)]

# ---------------- Romania ----------------
RO_air = [1.03,1.00,1.06,1.04,1.08,0.98,0.96,1.00,0.94,0.93, 0.86,0.84,0.88,0.90,0.88,0.82,0.76,0.70,0.62,0.52,
          0.42,0.32,0.24,0.18,0.16,0.15,0.19,0.14,0.17,0.12, 0.08,0.15,0.10,0.07,0.06,0.10,0.13,0.12,0.15,0.17, 0.18,0.19]
RO_car = [0.92,0.93,0.92,0.91,0.93,0.92,0.90,0.86,0.80,0.72, 0.62,0.55,0.48,0.44,0.40,0.37,0.34,0.32,0.30,0.29,
          0.28,0.29,0.28,0.29,0.28,0.29,0.30,0.28,0.29,0.30, 0.29,0.30,0.29,0.30,0.31,0.30,0.31,0.30,0.32,0.31, 0.32,0.30]
RO_wal = [1.12,1.13,1.12,1.11,1.10,1.12,1.08,1.05,1.0,0.92, 0.82,0.72,0.62,0.55,0.48,0.42,0.38,0.34,0.30,0.28,
          0.26,0.25,0.24,0.23,0.24,0.23,0.22,0.23,0.24,0.23, 0.24,0.23,0.22,0.23,0.24,0.23,0.22,0.23,0.22,0.23, 0.22,0.22]
RO_air_fit = ([0,8,13,16,19,22,25,41], [1.03,0.98,0.88,0.75,0.52,0.28,0.17,0.16])
RO_car_fit = ([0,6,9,12,15,18,21,41], [0.92,0.90,0.78,0.50,0.37,0.31,0.29,0.29])
RO_wal_fit = ([0,6,9,12,15,18,21,41], [1.12,1.09,0.95,0.62,0.42,0.30,0.25,0.23])
RO_r = ([14,17,20,22.1,25,28,31,35,40,45,50,69], [0.99,0.92,0.83,0.77,0.65,0.52,0.40,0.29,0.22,0.20,0.19,0.185])
RO_hi = ([14,18,22,26,30,40,69], [1.15,1.0,0.83,0.62,0.44,0.23,0.19])
RO_lo = ([14,18,22,26,30,40,69], [0.86,0.84,0.72,0.58,0.41,0.21,0.18])
RO_mark = (22.1, 0.77)
RO_dt = 8.0
RO_rho = [("air", 0.81), ("car", 0.48), ("wal", 0.45)]

# ---------------- Slovakia ----------------
SK_air = [0.90,0.88,0.85,0.92,0.83,0.88,0.90,0.86,0.89,0.95, 1.08,0.20,0.03,0.01,0.24,0.18,0.15,0.22,0.05,0.12,
          0.18,0.25,0.10,0.14,0.22,0.08,0.15,0.17,0.20,0.12, 0.05,0.16,0.19,0.14,0.22,0.18,0.13,0.20,0.15,0.18, 0.08,0.00]
SK_car = [1.00,1.01,1.00,0.99,1.00,0.99,0.98,0.94,0.85,0.72, 0.58,0.47,0.42,0.40,0.39,0.38,0.39,0.40,0.39,0.38,
          0.40,0.41,0.42,0.43,0.44,0.46,0.48,0.50,0.51,0.52, 0.53,0.54,0.53,0.55,0.56,0.55,0.53,0.52,0.54,0.53, 0.55,0.53]
SK_wal = [1.10,1.11,1.12,1.10,1.13,1.09,1.08,1.04,0.95,0.82, 0.68,0.56,0.48,0.44,0.42,0.41,0.40,0.42,0.41,0.40,
          0.42,0.41,0.43,0.44,0.45,0.47,0.48,0.50,0.52,0.53, 0.54,0.55,0.56,0.55,0.54,0.56,0.55,0.54,0.55,0.53, 0.54,0.53]
SK_tra = [0.96,0.94,0.95,0.93,0.94,0.92,0.90,0.85,0.74,0.60, 0.45,0.36,0.32,0.30,0.29,0.28,0.29,0.28,0.30,0.29,
          0.30,0.29,0.30,0.31,0.32,0.31,0.33,0.34,0.35,0.34, 0.36,0.35,0.36,0.37,0.36,0.37,0.38,0.37,0.36,0.37, 0.38,0.37]
SK_air_fit = ([0,10.3,10.6,41], [0.90,0.90,0.14,0.14])
SK_car_fit = ([0,6,8,10,12,14,41], [1.0,0.98,0.85,0.55,0.47,0.47,0.47])
SK_wal_fit = ([0,6,8,10,12,14,41], [1.10,1.08,0.92,0.60,0.48,0.47,0.47])
SK_tra_fit = ([0,6,8,10,12,14,41], [0.95,0.92,0.75,0.45,0.33,0.32,0.32])
SK_r = ([18,40,44,46,48,50,52,54,56,69], [1.0,1.0,0.99,0.96,0.85,0.555,0.32,0.22,0.195,0.19])
SK_hi = ([18,40,46,49,52,55,69], [1.05,1.05,1.02,0.85,0.50,0.25,0.22])
SK_lo = ([18,40,46,49,52,55,69], [0.95,0.95,0.88,0.50,0.25,0.17,0.16])
SK_mark = (50.0, 0.555)
SK_dt = 40.0
SK_rho = [("air", 0.55), ("car", -0.28), ("wal", -0.89), ("tra", -0.93)]

# ---------------- Slovenia ----------------
SI_air = [0.65,0.62,0.70,0.68,0.75,0.72,0.66,0.70,0.62,0.68, 0.74,0.60,0.55,0.40,0.32,0.25,0.22,0.28,0.18,0.25,
          0.30,0.20,0.15,0.27,0.22,0.18,0.25,0.12,0.20,0.28, 0.16,0.22,0.06,0.25,0.18,0.30,0.20,0.15,0.26,0.22, 0.28,0.25]
SI_car = [1.00,1.01,1.00,0.99,1.00,0.98,0.97,0.94,0.88,0.78, 0.66,0.54,0.45,0.40,0.37,0.35,0.34,0.33,0.34,0.33,
          0.34,0.33,0.32,0.33,0.32,0.33,0.31,0.32,0.31,0.32, 0.31,0.32,0.31,0.32,0.30,0.31,0.30,0.31,0.30,0.31, 0.30,0.31]
SI_wal = [1.10,1.11,1.10,1.12,1.09,1.08,1.06,1.02,0.95,0.85, 0.72,0.60,0.50,0.44,0.41,0.40,0.39,0.40,0.38,0.39,
          0.40,0.38,0.39,0.40,0.38,0.39,0.37,0.38,0.36,0.37, 0.38,0.37,0.39,0.40,0.42,0.44,0.46,0.48,0.50,0.52, 0.53,0.54]
SI_air_fit = ([0,9,11,13,15,17,41], [0.70,0.68,0.55,0.35,0.25,0.22,0.22])
SI_car_fit = ([0,6,8,10,12,14,41], [1.0,0.98,0.85,0.60,0.40,0.34,0.33])
SI_wal_fit = ([0,6,8,10,12,14,41], [1.10,1.08,0.95,0.70,0.48,0.42,0.42])
SI_r = ([14,16,18.7,21,24,27,30,35,40,50,69], [1.0,0.93,0.80,0.67,0.52,0.39,0.30,0.22,0.19,0.175,0.17])
SI_hi = ([14,17,20,24,28,35,69], [1.20,1.05,0.85,0.60,0.40,0.24,0.18])
SI_lo = ([14,17,20,24,28,35,69], [0.88,0.82,0.68,0.48,0.33,0.20,0.165])
SI_mark = (18.7, 0.80)
SI_dt = 6.0
SI_rho = [("air", 0.27), ("car", 0.38), ("wal", -0.21)]

# ---------------- Spain ----------------
ES_air = [1.00,0.99,1.01,0.98,0.97,0.96,0.95,0.93,0.90,0.86, 0.78,0.65,0.50,0.35,0.22,0.14,0.10,0.09,0.08,0.08,
          0.07,0.08,0.07,0.06,0.07,0.08,0.07,0.06,0.07,0.06, 0.06,0.05,0.06,0.07,0.06,0.05,0.06,0.05,0.06,0.05, 0.05,0.05]
ES_car = [1.27,1.28,1.26,1.27,1.25,1.26,1.24,1.20,1.08,0.88, 0.65,0.45,0.28,0.18,0.14,0.13,0.13,0.12,0.13,0.12,
          0.13,0.12,0.13,0.12,0.13,0.12,0.13,0.12,0.13,0.14, 0.13,0.12,0.13,0.14,0.13,0.12,0.13,0.14,0.13,0.14, 0.13,0.14]
ES_wal = [1.38,1.37,1.39,1.36,1.38,1.37,1.35,1.28,1.10,0.85, 0.60,0.38,0.22,0.14,0.11,0.10,0.11,0.10,0.11,0.10,
          0.11,0.10,0.11,0.10,0.11,0.10,0.11,0.10,0.11,0.10, 0.11,0.10,0.11,0.12,0.11,0.10,0.11,0.12,0.11,0.11, 0.12,0.11]
ES_tra = [1.18,1.17,1.19,1.16,1.18,1.17,1.15,1.08,0.95,0.75, 0.52,0.32,0.18,0.10,0.07,0.06,0.06,0.07,0.06,0.06,
          0.07,0.06,0.06,0.07,0.06,0.06,0.07,0.06,0.06,0.07, 0.06,0.07,0.06,0.06,0.07,0.06,0.07,0.06,0.07,0.07, 0.06,0.07]
ES_air_fit = ([0,7,10,12,14,16,18,41], [1.0,0.94,0.80,0.55,0.25,0.10,0.07,0.06])
ES_car_fit = ([0,6,8,10,12,14,41], [1.27,1.24,1.05,0.60,0.25,0.14,0.13])
ES_wal_fit = ([0,6,8,10,12,14,41], [1.38,1.36,1.12,0.60,0.20,0.11,0.11])
ES_tra_fit = ([0,6,8,10,12,14,41], [1.18,1.15,0.95,0.50,0.17,0.07,0.065])
ES_r = ([0,5,10,14,18.2,20,22,25,30,35,40,50,69], [1.0,0.96,0.85,0.72,0.58,0.48,0.37,0.25,0.16,0.135,0.125,0.12,0.12])
ES_hi = ([0,5,10,15,20,25,35,69], [1.05,1.0,0.90,0.72,0.50,0.27,0.14,0.125])
ES_lo = ([0,5,10,15,20,25,35,69], [0.88,0.90,0.80,0.65,0.45,0.23,0.13,0.115])
ES_mark = (18.2, 0.58)
ES_dt = 6.0
ES_rho = [("air", 0.98), ("car", 0.87), ("wal", 0.71), ("tra", 0.86)]

# ---------------- Sweden ----------------
SE_air = [1.00,1.01,0.99,0.98,0.97,0.96,0.95,0.93,0.92,0.90, 0.88,0.85,0.80,0.72,0.62,0.52,0.42,0.34,0.28,0.24,
          0.22,0.20,0.19,0.20,0.18,0.19,0.17,0.18,0.17,0.16, 0.17,0.16,0.15,0.14,0.16,0.15,0.14,0.12,0.10,0.08, 0.07,0.07]
SE_car = [1.15,1.14,1.16,1.13,1.14,1.12,1.10,1.08,1.05,1.02, 0.99,0.97,0.95,0.94,0.93,0.94,0.93,0.92,0.93,0.94,
          0.93,0.94,0.93,0.94,0.95,0.94,0.93,0.94,0.95,0.94, 0.95,0.94,0.95,0.96,0.95,0.94,0.95,0.94,0.93,0.94, 0.93,0.92]
SE_wal = [1.10,1.11,1.09,1.10,1.08,1.07,1.05,1.03,1.0,0.96, 0.90,0.84,0.79,0.76,0.74,0.73,0.72,0.73,0.72,0.71,
          0.72,0.71,0.72,0.73,0.72,0.71,0.72,0.71,0.72,0.73, 0.72,0.73,0.72,0.71,0.72,0.73,0.72,0.71,0.72,0.72, 0.71,0.72]
SE_tra = [1.07,1.06,1.08,1.05,1.06,1.04,1.02,1.0,0.95,0.88, 0.80,0.72,0.65,0.60,0.58,0.57,0.56,0.57,0.56,0.55,
          0.56,0.55,0.56,0.55,0.56,0.55,0.56,0.55,0.56,0.55, 0.56,0.55,0.56,0.55,0.56,0.55,0.56,0.55,0.56,0.55, 0.56,0.55]
SE_air_fit = ([0,8,11,14,17,20,24,41], [1.0,0.93,0.85,0.65,0.35,0.20,0.17,0.15])
SE_car_fit = ([0,6,9,12,15,41], [1.15,1.10,0.98,0.91,0.89,0.89])
SE_wal_fit = ([0,6,9,11,13,15,41], [1.10,1.06,0.92,0.80,0.74,0.72,0.72])
SE_tra_fit = ([0,6,9,11,13,15,41], [1.07,1.03,0.85,0.68,0.59,0.56,0.55])
SE_r = ([0,10,20,25,30,33,35.8,38,41,44,48,55,69], [1.0,0.99,0.97,0.94,0.88,0.82,0.76,0.70,0.63,0.58,0.56,0.55,0.55])
SE_hi = ([0,10,20,30,36,42,50,69], [1.07,1.05,1.02,0.95,0.82,0.67,0.58,0.57])
SE_lo = ([0,10,20,30,36,42,50,69], [0.90,0.92,0.92,0.82,0.70,0.59,0.54,0.53])
SE_mark = (35.8, 0.76)
SE_dt = 24.0
SE_rho = [("air", 0.98), ("car", 0.10), ("wal", 0.30), ("tra", 0.63)]

# ---------------- styling / layout ----------------
SERIES = ["air", "car", "wal", "tra"]
COLORS = {"air": "#8e44ad", "car": "#3498db", "wal": "#95a5a6", "tra": "#34495e"}
FAINT = {"air": "rgba(142,68,173,0.25)", "car": "rgba(52,152,219,0.25)",
         "wal": "rgba(149,165,166,0.25)", "tra": "rgba(52,73,94,0.25)"}
RED = "#e74c3c"
BAND = "rgba(231,76,60,0.15)"
FONT = "DejaVu Sans"
STEP_FITS = {"LV_air_fit", "PL_air_fit", "SK_air_fit"}

W, H = 1277, 1577
OFF = 8.0   # page body margin: figure is drawn 8 px right/down of the window corner
# geometry below is in window (screen) pixels
COL_L = [54.8, 370.2, 685.6, 1001.0]
PANEL_W = 287.0
ROW_T0, ROW_PITCH, PANEL_H = 42.8, 224.9, 156.3
PX_PER_DAY = 3.748
X0_DAY = -0.55
Y_RANGE = [0.0, 1.406]


def d2t(d):
    return (BASE + pd.Timedelta(days=float(d))).strftime("%Y-%m-%d %H:%M:%S")


def fx(px):
    return (px - OFF) / W


def fy(px):
    return 1 - (px - OFF) / H


G = globals()
fig = go.Figure()
lay = {}
anns = []
shapes = []
major = [d2t(0), d2t(31), d2t(61)]
minor = [d2t(k) for k in range(0, 77)]

for i, (name, code) in enumerate(zip(COUNTRIES, CODES)):
    r, c = divmod(i, 4)
    n = i + 1
    sx = "" if n == 1 else str(n)
    xa, ya = "x" + sx, "y" + sx
    L = COL_L[c]
    R = min(W + OFF, L + PANEL_W)
    T = ROW_T0 + ROW_PITCH * r
    B = T + PANEL_H
    lay["xaxis" + sx] = dict(
        domain=[fx(L), min(1.0, fx(R))], anchor=ya, type="date", automargin=False,
        range=[d2t(X0_DAY), d2t(X0_DAY + (R - L) / PX_PER_DAY)],
        tickmode="array", tickvals=major, ticktext=TICK_LABELS,
        ticks="outside", ticklen=6, tickwidth=1, tickcolor="black",
        minor=dict(tickmode="array", tickvals=minor, ticks="outside", ticklen=3,
                   tickwidth=1, tickcolor="black", showgrid=False),
        showline=True, linecolor="black", linewidth=1, mirror=True,
        showgrid=False, zeroline=False, fixedrange=True,
        tickfont=dict(family=FONT, size=16.5, color="black"))
    lay["yaxis" + sx] = dict(
        domain=[fy(B), fy(T)], anchor=xa, range=Y_RANGE, automargin=False,
        tickmode="array", tickvals=Y_TICKS, ticktext=[f"{v:.1f}" for v in Y_TICKS],
        showticklabels=(c == 0), ticks="outside", ticklen=5, tickwidth=1, tickcolor="black",
        ticklabelstandoff=5,
        showline=True, linecolor="black", linewidth=1, mirror=True,
        showgrid=False, zeroline=False, fixedrange=True,
        tickfont=dict(family=FONT, size=16.5, color="black"))

    # R(t) uncertainty band
    hi = G[code + "_hi"]
    lo = G[code + "_lo"]
    fig.add_trace(go.Scatter(
        x=[d2t(d) for d in hi[0]] + [d2t(d) for d in lo[0][::-1]],
        y=list(hi[1]) + list(lo[1][::-1]),
        mode="lines", fill="toself", fillcolor=BAND, line=dict(width=0, color=BAND),
        xaxis=xa, yaxis=ya, showlegend=False, hoverinfo="skip"))

    # mobility series: dots + fitted dashed curves
    for key in SERIES:
        vals = G.get(f"{code}_{key}")
        if vals is None:
            continue
        fig.add_trace(go.Scatter(
            x=[d2t(k) for k in range(len(vals))], y=vals, mode="lines+markers",
            line=dict(color=FAINT[key], width=1.5),
            marker=dict(color=COLORS[key], size=7.5, line=dict(color="#1b1b1b", width=0.8)),
            xaxis=xa, yaxis=ya, showlegend=False, hoverinfo="skip"))
        fname = f"{code}_{key}_fit"
        fit = G.get(fname)
        if fit is not None:
            fig.add_trace(go.Scatter(
                x=[d2t(d) for d in fit[0]], y=fit[1], mode="lines",
                line=dict(color=COLORS[key], width=3.5, dash="11px,5px",
                          shape="linear" if fname in STEP_FITS else "spline"),
                opacity=0.85, xaxis=xa, yaxis=ya, showlegend=False, hoverinfo="skip"))

    # relative R(t)
    rr = G[code + "_r"]
    fig.add_trace(go.Scatter(
        x=[d2t(d) for d in rr[0]], y=rr[1], mode="lines",
        line=dict(color=RED, width=3.2, shape="spline"),
        xaxis=xa, yaxis=ya, showlegend=False, hoverinfo="skip"))
    mk = G[code + "_mark"]
    fig.add_trace(go.Scatter(
        x=[d2t(mk[0])], y=[mk[1]], mode="markers",
        marker=dict(color=RED, size=12, line=dict(color="#1b1b1b", width=1)),
        xaxis=xa, yaxis=ya, showlegend=False, hoverinfo="skip", cliponaxis=False))

    # texts
    anns.append(dict(text=name, x=fx(L + PANEL_W / 2), y=fy(T - 15), xref="paper", yref="paper",
                     xanchor="center", yanchor="middle", showarrow=False,
                     font=dict(family=FONT, size=21.5, color="black")))
    anns.append(dict(text=f"Δ<i>t</i>: {G[code + '_dt']:.1f}", x=fx(L + 130), y=fy(T + 19),
                     xref="paper", yref="paper", xanchor="center", yanchor="middle",
                     showarrow=False, font=dict(family=FONT, size=18.5, color="black")))
    for k, (lab, val) in enumerate(G[code + "_rho"]):
        anns.append(dict(text=f"<i>ρ</i><sub>{lab}</sub>: {val:.2f}", x=fx(L + 199),
                         y=fy(T + 19 + 23.2 * k), xref="paper", yref="paper",
                         xanchor="left", yanchor="middle", showarrow=False,
                         font=dict(family=FONT, size=15.5, color="black")))

# ---------------- legend (bottom-right empty cell) ----------------
LEG_Y = [1421, 1454, 1486.5, 1519.5, 1552]
LEG_COLORS = [RED, COLORS["air"], COLORS["car"], COLORS["wal"], COLORS["tra"]]
for k, (lab, col, yy) in enumerate(zip(LEGEND_LABELS, LEG_COLORS, LEG_Y)):
    if k == 0:
        shapes.append(dict(type="line", xref="paper", yref="paper", x0=fx(997.5), x1=fx(1045.5),
                           y0=fy(yy), y1=fy(yy), line=dict(color=col, width=3.2)))
    else:
        rad = 3.3
        shapes.append(dict(type="circle", xref="paper", yref="paper",
                           x0=fx(1021.5 - rad), x1=fx(1021.5 + rad), y0=fy(yy + rad), y1=fy(yy - rad),
                           fillcolor=col, line=dict(color="#1b1b1b", width=0.7)))
    anns.append(dict(text=lab, x=fx(1061), y=fy(yy), xref="paper", yref="paper",
                     xanchor="left", yanchor="middle", showarrow=False,
                     font=dict(family=FONT, size=22, color="black")))

fig.update_layout(
    template="none",
    width=W, height=H, margin=dict(l=0, r=0, t=0, b=0, pad=0, autoexpand=False),
    paper_bgcolor="white", plot_bgcolor="white", showlegend=False,
    annotations=anns, shapes=shapes, font=dict(family=FONT, color="black"),
    **lay)

fig.write_html("out.html")
